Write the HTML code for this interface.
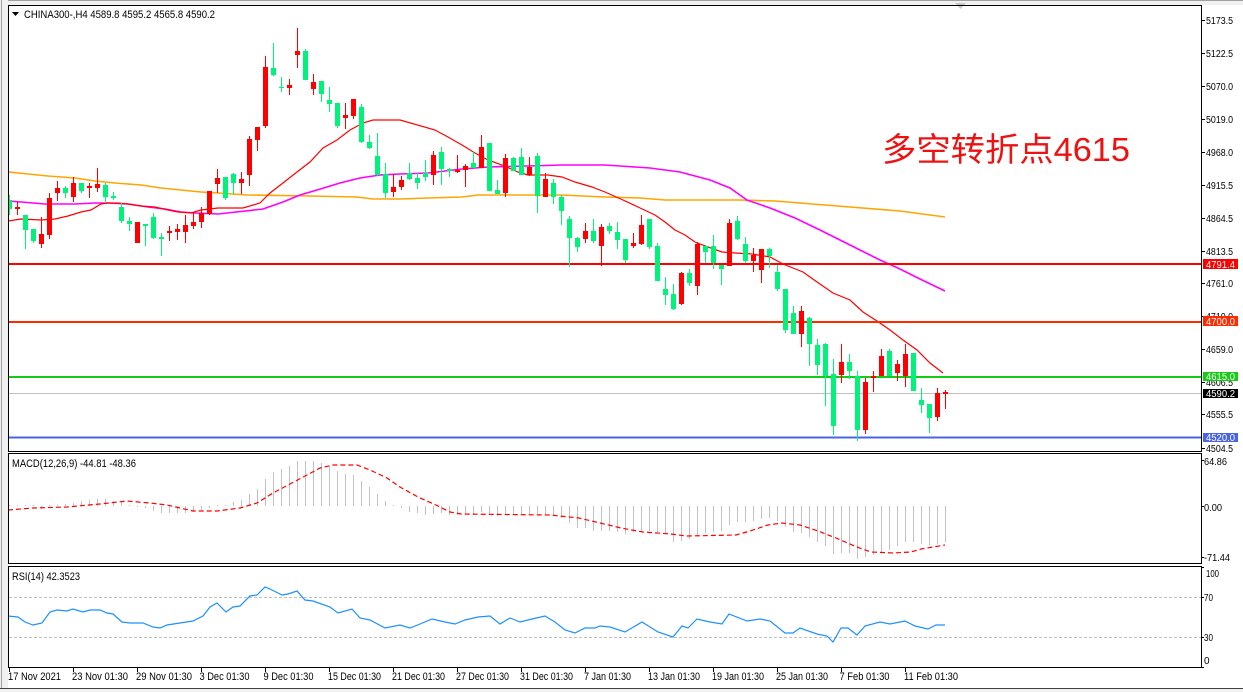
<!DOCTYPE html>
<html><head><meta charset="utf-8"><style>
html,body{margin:0;padding:0;background:#fff;width:1243px;height:692px;overflow:hidden}
svg{display:block}
text{font-family:"Liberation Sans","DejaVu Sans",sans-serif;fill:#000}
</style></head><body>
<svg width="1243" height="692" viewBox="0 0 1243 692" xmlns="http://www.w3.org/2000/svg">
<defs>
<clipPath id="cm"><rect x="9" y="6" width="1192" height="445"/></clipPath>
<clipPath id="cd"><rect x="9" y="454" width="1192" height="109"/></clipPath>
<clipPath id="cr"><rect x="9" y="567" width="1192" height="100"/></clipPath>
</defs>
<rect x="0" y="0" width="1243" height="692" fill="#fff"/>
<rect x="0" y="0" width="1243" height="5" fill="#f0f0f0"/>
<line x1="0" y1="0.5" x2="1243" y2="0.5" stroke="#a0a0a0"/>
<rect x="0" y="0" width="8" height="692" fill="#f0f0f0"/>
<line x1="1.5" y1="0" x2="1.5" y2="692" stroke="#a0a0a0"/>
<rect x="0" y="689" width="1243" height="3" fill="#f0f0f0"/>
<line x1="0" y1="688.5" x2="1243" y2="688.5" stroke="#404040"/>
<polygon points="955,3 966,3 960.5,9" fill="#c8c8c8"/>

<!-- MAIN PANEL -->
<g clip-path="url(#cm)">
<!-- MAs -->
<polyline fill="none" stroke="#ffa500" stroke-width="1.6" points="8,172 28,174 48,176 75,178 95,181 115,183 141,185 161,188 181,190 201,192 218,193 247,195 310,196 357,197 373,199 400,199 428,198 462,197 478,195 528,195 562,195 582,196 605,197 640,198 665,200 700,200 740,200 775,201 800,203 850,207 900,211 945,217"/>
<polyline fill="none" stroke="#ff00ff" stroke-width="1.6" points="8,201 21,202 45,204 75,204 95,203 108,203 128,204 148,207 165,209 181,212 195,213 218,214 263,209 283,202 300,195 317,190 340,183 360,178 380,175 400,174 428,173 462,169 488,167 528,166 562,165 605,165 620,166 650,168 680,172 710,180 730,188 747,200 770,208 795,218 820,230 840,240 860,250 880,260 900,269 920,279 945,291"/>
<polyline fill="none" stroke="#ff0000" stroke-width="1.2" points="8,221 21,219 41,220 55,219 68,216 81,212 91,210 101,204 108,203 118,203 128,204 141,206 155,207 168,210 178,212 191,213 201,210 218,208 243,208 260,203 270,193 283,183 297,172 310,162 323,148 337,140 350,130 363,123 373,120 400,120 435,130 448,137 462,145 475,153 488,160 502,165 518,172 528,175 548,175 562,177 575,182 592,187 605,192 623,200 638,207 655,215 665,222 675,230 685,235 695,242 708,247 722,252 735,253 752,254 770,257 783,264 803,272 817,282 833,293 850,300 863,312 877,321 890,330 903,340 917,350 930,363 943,373"/>

<!-- horizontal levels -->
<line x1="9" y1="264" x2="1201" y2="264" stroke="#ff0000" stroke-width="2"/>
<line x1="9" y1="322" x2="1201" y2="322" stroke="#ff2a00" stroke-width="2"/>
<line x1="9" y1="377" x2="1201" y2="377" stroke="#14cc14" stroke-width="2"/>
<line x1="9" y1="393.5" x2="1201" y2="393.5" stroke="#c0c0c0" stroke-width="1"/>
<line x1="9" y1="437.5" x2="1201" y2="437.5" stroke="#4a64e4" stroke-width="2"/>

<!-- green wicks -->
<path fill="none" stroke="#00f27a" stroke-width="1" d="M9.5 195V215M25.5 215V249M33.5 229V243M65.5 186V198M81.5 183V193M105.5 183V203M113.5 192V200M121.5 203V223M129.5 217V231M145.5 224V246M153.5 213V239M161.5 233V256M225.5 177V200M233.5 173V194M273.5 43V76M281.5 77V92M305.5 49V80M321.5 81V102M329.5 87V112M337.5 103V128M361.5 104V143M369.5 135V149M377.5 133V176M385.5 163V198M409.5 163V180M417.5 173V189M425.5 160V181M441.5 147V185M449.5 168V177M473.5 151V168M489.5 143V191M497.5 180V194M513.5 157V171M521.5 148V175M537.5 153V213M553.5 179V204M561.5 195V225M569.5 216V267M577.5 237V252M593.5 219V243M609.5 223V234M617.5 222V249M625.5 239V263M649.5 219V249M657.5 243V281M665.5 277V305M673.5 284V310M689.5 269V286M705.5 245V263M713.5 235V269M721.5 265V285M737.5 216V240M745.5 237V263M769.5 248V268M777.5 265V291M785.5 289V333M793.5 306V334M809.5 317V366M817.5 339V375M825.5 343V406M833.5 359V435M849.5 354V379M857.5 371V441M889.5 349V376M913.5 353V391M921.5 388V413M929.5 404V433"/>
<!-- red wicks -->
<path fill="none" stroke="#ff0000" stroke-width="1" d="M17.5 202V215M41.5 217V248M49.5 193V239M57.5 181V201M73.5 177V202M89.5 183V198M97.5 168V192M137.5 222V243M169.5 226V241M177.5 224V240M185.5 215V243M193.5 212V229M201.5 207V228M209.5 191V215M217.5 169V193M241.5 172V194M249.5 136V186M257.5 127V151M265.5 56V128M289.5 79V95M297.5 28V68M313.5 74V95M345.5 103V129M353.5 99V119M393.5 174V197M401.5 176V190M433.5 151V185M457.5 155V173M465.5 164V187M481.5 135V168M505.5 154V197M529.5 157V176M545.5 173V197M585.5 223V243M601.5 224V266M633.5 233V248M641.5 215V245M681.5 272V305M697.5 242V295M729.5 219V266M753.5 248V272M761.5 249V283M801.5 306V347M841.5 344V383M865.5 378V434M873.5 371V392M881.5 349V376M897.5 360V381M905.5 344V387M937.5 388V421M945.5 390V409"/>
<!-- green bodies -->
<g fill="#00f27a">
<rect x="7" y="200" width="5" height="9"/><rect x="23" y="215" width="5" height="15"/><rect x="31" y="229" width="5" height="12"/><rect x="63" y="188" width="5" height="5"/><rect x="79" y="183" width="5" height="8"/><rect x="103" y="185" width="5" height="12"/><rect x="111" y="196" width="5" height="2"/><rect x="119" y="207" width="5" height="14"/><rect x="127" y="221" width="5" height="3"/><rect x="143" y="224" width="5" height="2"/><rect x="151" y="217" width="5" height="21"/><rect x="159" y="237" width="5" height="2"/><rect x="223" y="177" width="5" height="21"/><rect x="231" y="174" width="5" height="9"/><rect x="271" y="68" width="5" height="7"/><rect x="279" y="87" width="5" height="1"/><rect x="303" y="51" width="5" height="29"/><rect x="319" y="81" width="5" height="13"/><rect x="327" y="100" width="5" height="4"/><rect x="335" y="103" width="5" height="23"/><rect x="359" y="107" width="5" height="35"/><rect x="367" y="142" width="5" height="6"/><rect x="375" y="156" width="5" height="19"/><rect x="383" y="174" width="5" height="19"/><rect x="407" y="173" width="5" height="6"/><rect x="415" y="178" width="5" height="5"/><rect x="423" y="173" width="5" height="4"/><rect x="439" y="152" width="5" height="17"/><rect x="447" y="169" width="5" height="2"/><rect x="471" y="163" width="5" height="5"/><rect x="487" y="143" width="5" height="48"/><rect x="495" y="190" width="5" height="4"/><rect x="511" y="158" width="5" height="13"/><rect x="519" y="157" width="5" height="18"/><rect x="535" y="156" width="5" height="40"/><rect x="551" y="183" width="5" height="14"/><rect x="559" y="197" width="5" height="14"/><rect x="567" y="219" width="5" height="19"/><rect x="575" y="238" width="5" height="9"/><rect x="591" y="231" width="5" height="10"/><rect x="607" y="226" width="5" height="5"/><rect x="615" y="232" width="5" height="8"/><rect x="623" y="239" width="5" height="21"/><rect x="647" y="219" width="5" height="28"/><rect x="655" y="246" width="5" height="35"/><rect x="663" y="289" width="5" height="6"/><rect x="671" y="294" width="5" height="15"/><rect x="687" y="273" width="5" height="10"/><rect x="703" y="246" width="5" height="6"/><rect x="711" y="246" width="5" height="17"/><rect x="719" y="265" width="5" height="4"/><rect x="735" y="221" width="5" height="18"/><rect x="743" y="244" width="5" height="17"/><rect x="767" y="249" width="5" height="7"/><rect x="775" y="272" width="5" height="17"/><rect x="783" y="289" width="5" height="41"/><rect x="791" y="313" width="5" height="21"/><rect x="807" y="318" width="5" height="26"/><rect x="815" y="345" width="5" height="20"/><rect x="823" y="344" width="5" height="32"/><rect x="831" y="374" width="5" height="52"/><rect x="847" y="362" width="5" height="9"/><rect x="855" y="376" width="5" height="54"/><rect x="887" y="351" width="5" height="25"/><rect x="911" y="353" width="5" height="38"/><rect x="919" y="400" width="5" height="5"/><rect x="927" y="404" width="5" height="14"/>
</g>
<!-- red bodies -->
<g fill="#ff0000">
<rect x="15" y="207" width="5" height="2"/><rect x="39" y="234" width="5" height="10"/><rect x="47" y="198" width="5" height="37"/><rect x="55" y="188" width="5" height="5"/><rect x="71" y="183" width="5" height="14"/><rect x="87" y="186" width="5" height="2"/><rect x="95" y="184" width="5" height="4"/><rect x="135" y="222" width="5" height="21"/><rect x="167" y="231" width="5" height="2"/><rect x="175" y="229" width="5" height="3"/><rect x="183" y="225" width="5" height="7"/><rect x="191" y="222" width="5" height="4"/><rect x="199" y="213" width="5" height="9"/><rect x="207" y="191" width="5" height="23"/><rect x="215" y="178" width="5" height="6"/><rect x="239" y="179" width="5" height="4"/><rect x="247" y="139" width="5" height="36"/><rect x="255" y="127" width="5" height="13"/><rect x="263" y="67" width="5" height="59"/><rect x="287" y="85" width="5" height="3"/><rect x="295" y="51" width="5" height="4"/><rect x="311" y="82" width="5" height="7"/><rect x="343" y="115" width="5" height="3"/><rect x="351" y="99" width="5" height="17"/><rect x="391" y="187" width="5" height="5"/><rect x="399" y="180" width="5" height="7"/><rect x="431" y="155" width="5" height="20"/><rect x="455" y="170" width="5" height="2"/><rect x="463" y="166" width="5" height="4"/><rect x="479" y="147" width="5" height="21"/><rect x="503" y="158" width="5" height="35"/><rect x="527" y="167" width="5" height="8"/><rect x="543" y="179" width="5" height="18"/><rect x="583" y="231" width="5" height="8"/><rect x="599" y="227" width="5" height="19"/><rect x="631" y="243" width="5" height="3"/><rect x="639" y="225" width="5" height="19"/><rect x="679" y="273" width="5" height="31"/><rect x="695" y="244" width="5" height="42"/><rect x="727" y="223" width="5" height="43"/><rect x="751" y="255" width="5" height="6"/><rect x="759" y="249" width="5" height="21"/><rect x="799" y="311" width="5" height="23"/><rect x="839" y="362" width="5" height="13"/><rect x="863" y="382" width="5" height="48"/><rect x="871" y="376" width="5" height="2"/><rect x="879" y="356" width="5" height="20"/><rect x="895" y="364" width="5" height="9"/><rect x="903" y="354" width="5" height="22"/><rect x="935" y="393" width="5" height="24"/><rect x="943" y="392" width="5" height="2"/>
</g>
</g>

<!-- header -->
<polygon points="12,12 19,12 15.5,16" fill="#000"/>
<text x="24" y="18" font-size="11" textLength="191" lengthAdjust="spacingAndGlyphs">CHINA300-,H4  4589.8 4595.2 4565.8 4590.2</text>

<!-- annotation -->
<text x="882" y="161" font-size="33" textLength="248" lengthAdjust="spacingAndGlyphs" style="font-family:'Liberation Sans','Noto Sans CJK SC',sans-serif;fill:#ee1111">多空转折点4615</text>

<!-- panel borders -->
<g fill="none" stroke="#000" stroke-width="1">
<rect x="8.5" y="5.5" width="1193" height="446"/>
<rect x="8.5" y="453.5" width="1193" height="110"/>
<rect x="8.5" y="566.5" width="1193" height="101"/>
</g>

<!-- price axis -->
<g stroke="#000" stroke-width="1">
<path d="M1201 20.5h4M1201 53.5h4M1201 86.5h4M1201 119.5h4M1201 152.5h4M1201 185.5h4M1201 218.5h4M1201 251.5h4M1201 283.5h4M1201 316.5h4M1201 349.5h4M1201 382.5h4M1201 414.5h4M1201 448.5h4"/>
</g>
<g font-size="10">
<text x="1206" y="24" textLength="27" lengthAdjust="spacingAndGlyphs">5173.5</text>
<text x="1206" y="57" textLength="27" lengthAdjust="spacingAndGlyphs">5122.5</text>
<text x="1206" y="90" textLength="27" lengthAdjust="spacingAndGlyphs">5070.0</text>
<text x="1206" y="123" textLength="27" lengthAdjust="spacingAndGlyphs">5019.0</text>
<text x="1206" y="156" textLength="27" lengthAdjust="spacingAndGlyphs">4968.0</text>
<text x="1206" y="189" textLength="27" lengthAdjust="spacingAndGlyphs">4915.5</text>
<text x="1206" y="222" textLength="27" lengthAdjust="spacingAndGlyphs">4864.5</text>
<text x="1206" y="255" textLength="27" lengthAdjust="spacingAndGlyphs">4813.5</text>
<text x="1206" y="287" textLength="27" lengthAdjust="spacingAndGlyphs">4761.0</text>
<text x="1206" y="320" textLength="27" lengthAdjust="spacingAndGlyphs">4710.0</text>
<text x="1206" y="353" textLength="27" lengthAdjust="spacingAndGlyphs">4659.0</text>
<text x="1206" y="386" textLength="27" lengthAdjust="spacingAndGlyphs">4606.5</text>
<text x="1206" y="418" textLength="27" lengthAdjust="spacingAndGlyphs">4555.5</text>
<text x="1206" y="452" textLength="27" lengthAdjust="spacingAndGlyphs">4504.5</text>
</g>
<!-- level labels -->
<rect x="1203" y="259" width="35" height="10" fill="#ff0000"/>
<rect x="1203" y="316" width="35" height="10" fill="#ff2a00"/>
<rect x="1203" y="372" width="35" height="9" fill="#14cc14"/>
<rect x="1203" y="389" width="35" height="9" fill="#000"/>
<rect x="1203" y="433" width="35" height="9" fill="#4a64e4"/>
<g font-size="10" style="fill:#fff">
<text x="1206" y="268" textLength="29" lengthAdjust="spacingAndGlyphs" style="fill:#fff">4791.4</text>
<text x="1206" y="325" textLength="29" lengthAdjust="spacingAndGlyphs" style="fill:#fff">4700.0</text>
<text x="1206" y="380" textLength="29" lengthAdjust="spacingAndGlyphs" style="fill:#fff">4615.0</text>
<text x="1206" y="397" textLength="29" lengthAdjust="spacingAndGlyphs" style="fill:#fff">4590.2</text>
<text x="1206" y="441" textLength="29" lengthAdjust="spacingAndGlyphs" style="fill:#fff">4520.0</text>
</g>

<!-- MACD -->
<g clip-path="url(#cd)">
<path fill="none" stroke="#c0c0c0" stroke-width="1" d="M9.5 506V505M17.5 506V505M25.5 506V505M33.5 506V505M41.5 506V509M49.5 506V505M57.5 506V505M65.5 506V504M73.5 506V503M81.5 506V501M89.5 506V500M97.5 506V499M105.5 506V499M113.5 506V501M121.5 506V502M129.5 506V505M137.5 506V507M145.5 506V508M153.5 506V511M161.5 506V513M169.5 506V513M177.5 506V513M185.5 506V513M193.5 506V512M201.5 506V510M209.5 506V508M217.5 506V505M225.5 506V505M233.5 506V502M241.5 506V500M249.5 506V494M257.5 506V489M265.5 506V479M273.5 506V472M281.5 506V469M289.5 506V466M297.5 506V461M305.5 506V461M313.5 506V461M321.5 506V463M329.5 506V466M337.5 506V471M345.5 506V474M353.5 506V475M361.5 506V481M369.5 506V487M377.5 506V494M385.5 506V501M393.5 506V505M401.5 506V508M409.5 506V512M417.5 506V513M425.5 506V515M433.5 506V514M441.5 506V513M449.5 506V515M457.5 506V515M465.5 506V515M473.5 506V515M481.5 506V512M489.5 506V515M497.5 506V516M505.5 506V515M513.5 506V515M521.5 506V515M529.5 506V514M537.5 506V514M545.5 506V515M553.5 506V516M561.5 506V518M569.5 506V523M577.5 506V528M585.5 506V528M593.5 506V531M601.5 506V531M609.5 506V531M617.5 506V532M625.5 506V534M633.5 506V532M641.5 506V531M649.5 506V531M657.5 506V532M665.5 506V533M673.5 506V542M681.5 506V541M689.5 506V539M697.5 506V536M705.5 506V533M713.5 506V532M721.5 506V531M729.5 506V525M737.5 506V522M745.5 506V522M753.5 506V521M761.5 506V519M769.5 506V518M777.5 506V521M785.5 506V527M793.5 506V532M801.5 506V533M809.5 506V537M817.5 506V542M825.5 506V546M833.5 506V554M841.5 506V553M849.5 506V553M857.5 506V559M865.5 506V557M873.5 506V555M881.5 506V552M889.5 506V550M897.5 506V546M905.5 506V542M913.5 506V542M921.5 506V544M929.5 506V545M937.5 506V544M945.5 506V542"/>
<polyline fill="none" stroke="#ff0000" stroke-width="1.2" stroke-dasharray="5,3" points="8,510 33,508 67,507 100,504 127,501 150,503 167,505 193,511 217,511 240,508 257,503 273,493 290,484 307,475 320,468 333,465 357,465 370,470 387,478 400,487 418,497 436,505 450,512 461,514 550,515 579,518 600,523 621,528 643,532 671,534 686,536 736,535 750,531 768,525 782,523 800,525 818,531 836,538 857,547 871,552 893,553 911,552 921,549 945,545"/>
</g>
<text x="12" y="467" font-size="11" textLength="124" lengthAdjust="spacingAndGlyphs">MACD(12,26,9) -44.81 -48.36</text>
<g stroke="#000"><path d="M1201 460.5h3M1201 506.5h3M1201 557.5h3"/></g>
<g font-size="10">
<text x="1204" y="465" textLength="23" lengthAdjust="spacingAndGlyphs">64.86</text>
<text x="1204" y="511" textLength="18" lengthAdjust="spacingAndGlyphs">0.00</text>
<text x="1204" y="561" textLength="26" lengthAdjust="spacingAndGlyphs">-71.44</text>
</g>

<!-- RSI -->
<g clip-path="url(#cr)">
<line x1="9" y1="597.5" x2="1201" y2="597.5" stroke="#c0c0c0" stroke-dasharray="3,2"/>
<line x1="9" y1="637.5" x2="1201" y2="637.5" stroke="#c0c0c0" stroke-dasharray="3,2"/>
<polyline fill="none" stroke="#1e90ff" stroke-width="1.2" points="8,616 18,617 25,622 33,625 42,623 50,612 57,610 67,611 73,609 83,612 90,610 100,610 107,613 113,614 122,622 130,623 143,623 153,627 160,628 167,625 180,623 193,621 203,616 210,607 217,603 226,612 233,607 240,606 250,596 257,595 265,587 272,590 282,595 288,594 297,591 305,600 313,601 330,607 338,613 352,609 360,618 370,620 385,628 400,625 410,628 420,624 432,619 445,622 455,624 465,620 478,617 490,616 500,624 510,618 520,622 532,619 545,616 555,622 565,630 575,633 585,628 595,628 600,626 610,627 625,632 642,622 658,632 673,637 682,626 688,628 697,619 710,622 722,624 729,614 747,621 760,619 770,621 785,633 793,633 800,628 817,634 827,636 833,642 841,628 848,628 857,635 865,626 880,622 890,624 905,621 915,626 928,629 936,625 945,625"/>
</g>
<text x="12" y="580" font-size="11" textLength="68" lengthAdjust="spacingAndGlyphs">RSI(14) 42.3523</text>
<g stroke="#000"><path d="M1201 567.5h3M1201 597.5h3M1201 637.5h3M1201 667.5h3"/></g>
<g font-size="10">
<text x="1206" y="577" textLength="13" lengthAdjust="spacingAndGlyphs">100</text>
<text x="1204" y="601" textLength="9" lengthAdjust="spacingAndGlyphs">70</text>
<text x="1204" y="641" textLength="9" lengthAdjust="spacingAndGlyphs">30</text>
<text x="1204" y="664">0</text>
</g>

<!-- time axis -->
<g stroke="#000"><path d="M9.5 668v4M73.5 668v4M137.5 668v4M201.5 668v4M265.5 668v4M329.5 668v4M393.5 668v4M457.5 668v4M521.5 668v4M585.5 668v4M649.5 668v4M713.5 668v4M777.5 668v4M841.5 668v4M905.5 668v4"/></g>
<g font-size="11">
<text x="8" y="680" textLength="53" lengthAdjust="spacingAndGlyphs">17 Nov 2021</text>
<text x="72" y="680" textLength="56" lengthAdjust="spacingAndGlyphs">23 Nov 01:30</text>
<text x="136" y="680" textLength="56" lengthAdjust="spacingAndGlyphs">29 Nov 01:30</text>
<text x="199.5" y="680" textLength="50" lengthAdjust="spacingAndGlyphs">3 Dec 01:30</text>
<text x="263.5" y="680" textLength="50" lengthAdjust="spacingAndGlyphs">9 Dec 01:30</text>
<text x="328" y="680" textLength="53" lengthAdjust="spacingAndGlyphs">15 Dec 01:30</text>
<text x="392" y="680" textLength="53" lengthAdjust="spacingAndGlyphs">21 Dec 01:30</text>
<text x="456" y="680" textLength="53" lengthAdjust="spacingAndGlyphs">27 Dec 01:30</text>
<text x="520" y="680" textLength="53" lengthAdjust="spacingAndGlyphs">31 Dec 01:30</text>
<text x="584" y="680" textLength="47" lengthAdjust="spacingAndGlyphs">7 Jan 01:30</text>
<text x="648" y="680" textLength="52" lengthAdjust="spacingAndGlyphs">13 Jan 01:30</text>
<text x="712" y="680" textLength="52" lengthAdjust="spacingAndGlyphs">19 Jan 01:30</text>
<text x="776" y="680" textLength="52" lengthAdjust="spacingAndGlyphs">25 Jan 01:30</text>
<text x="839.5" y="680" textLength="50" lengthAdjust="spacingAndGlyphs">7 Feb 01:30</text>
<text x="904" y="680" textLength="54" lengthAdjust="spacingAndGlyphs">11 Feb 01:30</text>
</g>
</svg>
</body></html>
